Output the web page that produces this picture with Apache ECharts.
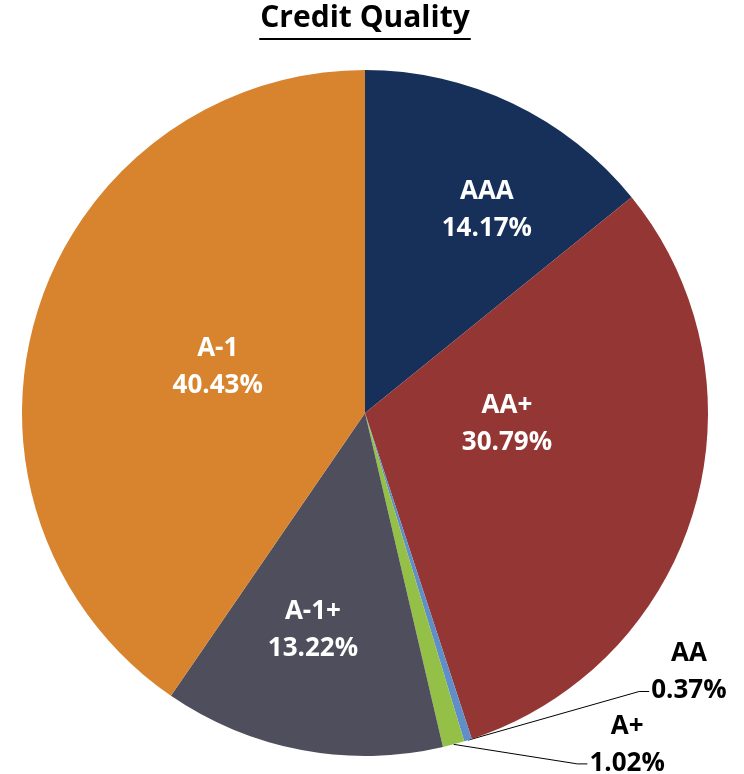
<!DOCTYPE html>
<html>
<head>
<meta charset="utf-8">
<script src="https://cdn.jsdelivr.net/npm/echarts@6/dist/echarts.min.js"></script>
<style>html,body{margin:0;padding:0;background:#fff}#c{width:744px;height:774px}</style>
</head>
<body>
<div id="c"></div>
<script>
// ---- data ----
const titleText = 'Credit Quality';
const categories = ['AAA', 'AA+', 'AA', 'A+', 'A-1+', 'A-1'];
const values = [14.17, 30.79, 0.37, 1.02, 13.22, 40.43];

// ---- style ----
const colors = ['#17305A', '#943634', '#5F8EC8', '#94C047', '#4F4E5C', '#D8842F'];
const outsideLabels = ['AA', 'A+'];
// label placement in polar terms: [angle in degrees clockwise from 12 o'clock, fraction of radius]
const labelPolar = [[31, 0.69], [94.4, 0.415], [128.7, 1.21], [141.7, 1.233], [193.5, 0.65], [287.4, 0.45]];
const CX = 365, CY = 413, R = 343;
const FONT = '"Open Sans", "Noto Sans", sans-serif';

const total = values.reduce((a, b) => a + b, 0);
function midAngle(i) {
  let before = 0;
  for (let k = 0; k < i; k++) before += values[k];
  return (before + values[i] / 2) / total * 360;
}
function polar(angleDeg, r) {
  const a = angleDeg * Math.PI / 180;
  return [CX + r * Math.sin(a), CY - r * Math.cos(a)];
}

const chart = echarts.init(document.getElementById('c'), null, {renderer: 'canvas'});

const cv = document.createElement('canvas').getContext('2d');
cv.font = 'bold 30px ' + FONT;
const titleW = cv.measureText(titleText).width;

const data = categories.map((name, i) => {
  const outside = outsideLabels.includes(name);
  return {
    name: name,
    value: values[i],
    itemStyle: {color: colors[i]},
    label: {
      position: outside ? 'outside' : 'inside',
      color: outside ? '#000' : '#fff'
    },
    labelLine: {show: outside, length: 20, length2: 10, lineStyle: {color: '#000', width: 1}}
  };
});

chart.setOption({
  backgroundColor: '#fff',
  animation: false,
  title: {
    text: titleText,
    left: 365 - titleW / 2,
    top: 3,
    padding: 0,
    textStyle: {fontFamily: FONT, fontSize: 30, fontWeight: 'bold', color: '#000'}
  },
  graphic: [{
    type: 'rect',
    shape: {x: 365 - titleW / 2 - 1, y: 38, width: titleW + 2, height: 2},
    style: {fill: '#000'}
  }],
  series: [{
    type: 'pie',
    center: [CX, CY],
    radius: R,
    startAngle: 90,
    clockwise: true,
    avoidLabelOverlap: false,
    data: data,
    itemStyle: {borderWidth: 0},
    label: {
      show: true,
      fontFamily: FONT,
      fontSize: 26,
      fontWeight: 'bold',
      lineHeight: 37,
      align: 'center',
      formatter: p => p.name + '\n' + p.value.toFixed(2) + '%'
    },
    labelLayout: function (params) {
      const i = params.dataIndex;
      const lp = labelPolar[i];
      const pos = polar(lp[0], lp[1] * R);
      const res = {x: pos[0], y: pos[1], align: 'center', verticalAlign: 'middle'};
      if (outsideLabels.includes(categories[i])) {
        const w = params.labelRect.width;
        const start = polar(midAngle(i), R);
        const end = [pos[0] - w / 2 - 2, pos[1] + 19];
        res.labelLinePoints = [start, [end[0] - 10, end[1]], end];
      }
      return res;
    }
  }]
});
</script>
</body>
</html>
